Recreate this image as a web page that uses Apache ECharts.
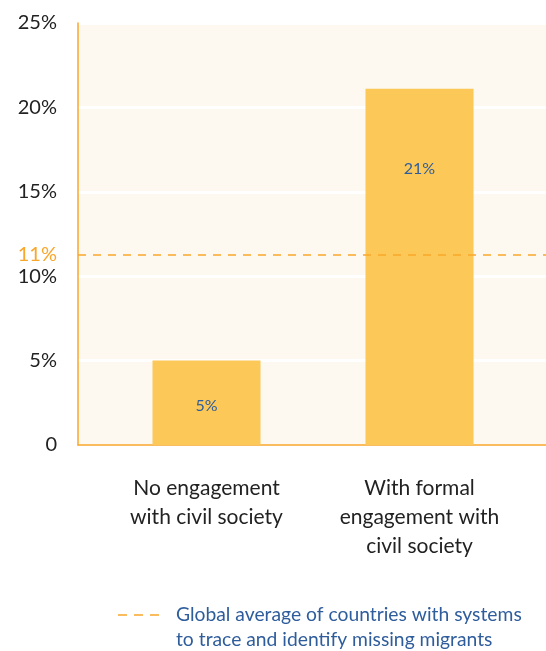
<!DOCTYPE html>
<html>
<head>
<meta charset="utf-8">
<script src="https://cdn.jsdelivr.net/npm/echarts@6/dist/echarts.min.js"></script>
<style>
html,body{margin:0;padding:0;background:#fff;}
#chart{width:546px;height:651px;}
</style>
</head>
<body>
<div id="chart"></div>
<script>
var categories = ['No engagement\nwith civil society', 'With formal\nengagement with\ncivil society'];
var values = [5, 21.1];
var globalAverage = 11.3;
var legendName = 'Global average of countries with systems\nto trace and identify missing migrants';

var font = 'Lato, "Noto Sans", sans-serif';
var orange = '#F9A72B';
var blue = '#2F5D9C';

// per-bar label placement
var labelPos = [
	{position: 'insideTop', distance: 37},
	{position: 'insideTop', distance: 72}
];
var barData = values.map(function(v, i){
	return {value: v, label: labelPos[i]};
});

var chart = echarts.init(document.getElementById('chart'));
var option = {
	animation: false,
	grid: [
		{left: 78, right: 0, top: 23, bottom: 206, show: true, backgroundColor: '#FDF8F0', borderWidth: 0},
		{left: 100, right: 20, top: 23, bottom: 206}
	],
	graphic: [
		{
			type: 'line',
			shape: {x1: 118, y1: 615, x2: 160, y2: 615},
			style: {stroke: orange, lineWidth: 1.5, lineDash: [9, 7]}
		},
		{
			type: 'text',
			left: 176,
			top: 602,
			style: {text: legendName, fill: blue, fontSize: 19.3, fontFamily: font, lineHeight: 25}
		}
	],
	xAxis: [
		{
			gridIndex: 0,
			type: 'category',
			data: ['', ''],
			axisLine: {show: true, lineStyle: {color: orange, width: 1.5}},
			axisTick: {show: false},
			axisLabel: {show: false},
			splitLine: {show: false}
		},
		{
			gridIndex: 1,
			type: 'category',
			data: categories,
			axisLine: {show: false},
			axisTick: {show: false},
			axisLabel: {color: '#222', fontSize: 21, fontFamily: font, lineHeight: 29, margin: 29}
		}
	],
	yAxis: [
		{
			gridIndex: 0,
			type: 'value',
			min: 0,
			max: 25,
			interval: 5,
			axisLine: {show: true, lineStyle: {color: orange, width: 1.5}},
			axisTick: {show: false},
			axisLabel: {
				color: '#222', fontSize: 20, fontFamily: font, margin: 21,
				formatter: function(v){ return v === 0 ? '0' : v + '%'; }
			},
			splitLine: {show: true, lineStyle: {color: '#fff', width: 3}}
		},
		{
			gridIndex: 1,
			type: 'value',
			min: 0,
			max: 25,
			show: false
		}
	],
	series: [
		{
			name: 'bars',
			type: 'bar',
			xAxisIndex: 1,
			yAxisIndex: 1,
			z: 1,
			barWidth: 108,
			data: barData,
			itemStyle: {color: '#FCC857'},
			label: {
				show: true,
				formatter: function(p){ return Math.round(p.value) + '%'; },
				color: blue,
				fontSize: 16,
				fontFamily: font
			}
		},
		{
			name: 'average',
			type: 'line',
			xAxisIndex: 0,
			yAxisIndex: 0,
			z: 5,
			data: [],
			symbol: 'none',
			markLine: {
				silent: true,
				symbol: 'none',
				z: 5,
				lineStyle: {color: orange, type: [8, 7], width: 1.5},
				label: {
					position: 'start',
					distance: 21,
					formatter: Math.round(globalAverage) + '%',
					color: orange,
					fontSize: 20,
					fontFamily: font
				},
				data: [{yAxis: globalAverage}]
			}
		}
	]
};
chart.setOption(option);
</script>
</body>
</html>
